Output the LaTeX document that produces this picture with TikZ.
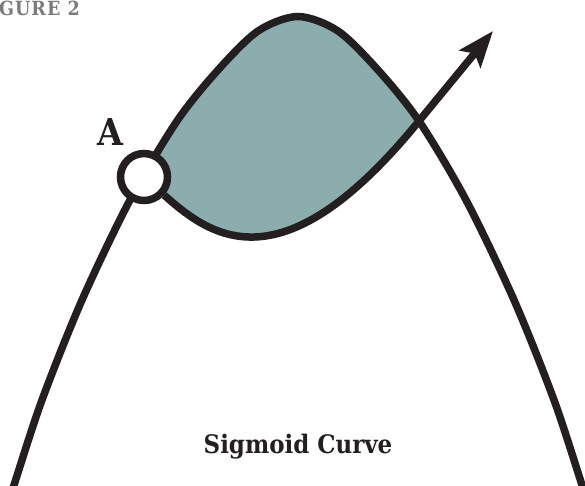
\documentclass[tikz,border=0pt]{standalone}
\usepackage{fontspec}
\newfontfamily\slab{DejaVu Serif Condensed}
\usetikzlibrary{arrows.meta}
\definecolor{ink}{HTML}{231F20}
\definecolor{regionfill}{HTML}{8CADAE}
\definecolor{figgray}{HTML}{7B7B7B}
\begin{document}
\begin{tikzpicture}[x=1pt,y=-1pt,
  curve/.style={draw=ink,line width=7.5pt},
  pointcircle/.style={circle,draw=ink,fill=white,line width=7.5pt,minimum size=47pt,inner sep=0pt},
  label/.style={font=\slab\bfseries,text=ink,inner sep=0pt}]
\clip (0,0) rectangle (585,485);
% shaded region
\fill[regionfill] (144,177) -- plot[smooth] coordinates {(144,177) (177,121) (218,70) (258,31) (298,16.5) (338,31) (378,70) (419,121)}
  .. controls (283,288) and (212,238) .. (144,177) -- cycle;
% main curve
\draw[curve] plot[smooth] coordinates {(4,515) (14,485) (42,400) (82,300) (130,200) (177,121) (218,70) (258,31) (298,16.5) (338,31) (378,70) (419,121) (466,200) (514,300) (554,400) (582,485) (592,515)};
% point A
\node[pointcircle] (A) at (144,177) {};
\coordinate (X) at (419,121);
\coordinate (tip) at (493,31);
\draw[curve,-{Stealth[length=36pt,width=27pt,inset=7pt]}] (A) .. controls (212,238) and (283,288) .. (X) -- (tip);
% labels
\node[label,font=\slab\bfseries\fontsize{37}{40}\selectfont,anchor=base] (lblA) at (110,145) {A};
\node[label,font=\slab\bfseries\fontsize{25.5}{30}\selectfont,anchor=base] (caption) at (298,453) {Sigmoid Curve};
\node[label,font=\slab\bfseries\fontsize{19.5}{22}\selectfont,text=figgray,anchor=base west] (fig) at (-1,15.5) {G\kern1ptU\kern1ptR\kern1ptE\kern1pt\ 2};
\end{tikzpicture}
\end{document}
